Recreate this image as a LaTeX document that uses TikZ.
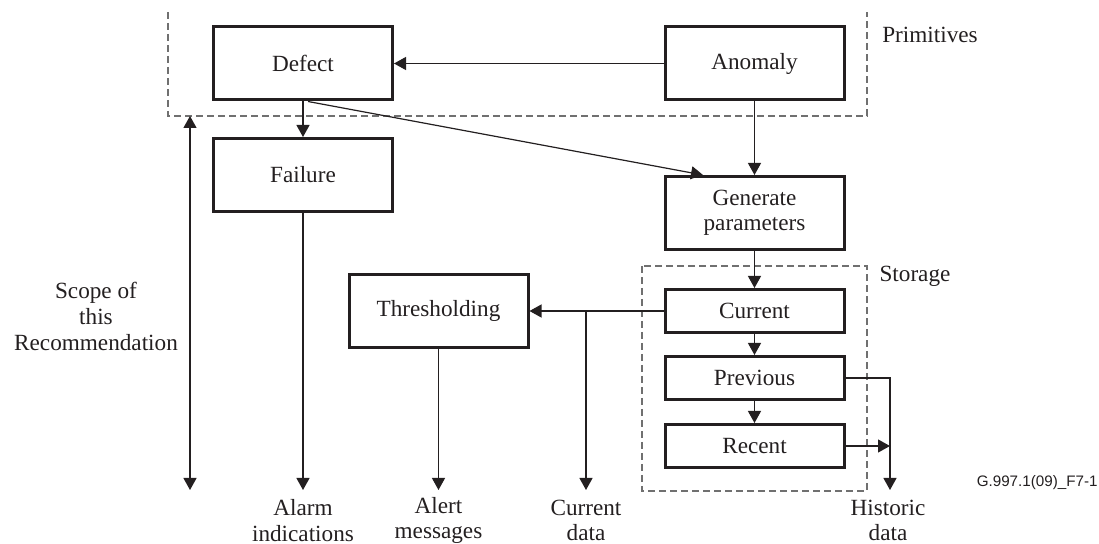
\documentclass[tikz,border=0pt]{standalone}
\usepackage{fontspec}
\setmainfont{Liberation Serif}
\newfontfamily\labelsans{Liberation Sans}
\usetikzlibrary{arrows.meta}
\definecolor{ink}{HTML}{231F20}
\definecolor{dashgray}{HTML}{707070}
\begin{document}
\begin{tikzpicture}[x=0.5pt,y=-0.5pt,
  txt/.style={font=\fontsize{11.6}{12.75}\selectfont, text=ink, align=center, inner sep=0pt},
  bigbox/.style={txt, draw=ink, line width=1.5pt, minimum width=89.5pt, minimum height=36.5pt},
  smallbox/.style={txt, draw=ink, line width=1.5pt, minimum width=89.5pt, minimum height=21.5pt},
  conn/.style={draw=ink, line width=0.6pt},
  arr/.style={conn, -{Triangle[length=6pt,width=6.5pt]}},
  darr/.style={conn, {Triangle[length=6pt,width=6.5pt]}-{Triangle[length=6pt,width=6.5pt]}},
  dashedframe/.style={draw=dashgray, line width=0.6pt, dash pattern=on 3.5pt off 2pt}
]
\useasboundingbox (0,0) rectangle (1099,544);

% dashed frames
\draw[dashedframe] (168,12) -- (168,116) -- (867,116) -- (867,12);
\draw[dashedframe] (642,266) rectangle (867,491);

% boxes
\node[bigbox] (defect) at (303,63.5) {Defect};
\node[bigbox] (anomaly) at (754.5,63.5) {Anomaly};
\node[bigbox] (fail) at (303,175) {Failure};
\node[bigbox] (gen) at (754.5,213) {Generate\\parameters};
\node[bigbox] (thr) at (438.5,311) {Thresholding};
\node[smallbox] (cur) at (754.5,311) {Current};
\node[smallbox] (prev) at (754.5,378) {Previous};
\node[smallbox] (rec) at (754.5,446) {Recent};

% labels
\node[txt] (prim) at (930,35) {Primitives};
\node[txt] (stor) at (915,276) {Storage};
\node[txt, font=\fontsize{11.6}{13}\selectfont] (scope) at (96,316) {Scope of\\this\\Recommendation};
\node[txt] (alarm) at (303,520.5) {Alarm\\indications};
\node[txt] (alert) at (438.5,520.5) {Alert\\messages};
\node[txt] (curdata) at (586,520.5) {Current\\data};
\node[txt] (hist) at (888,520.5) {Historic\\data};
\node[font=\labelsans\fontsize{7.6}{9}\selectfont, text=ink, anchor=east, inner sep=0pt] (fig) at (1098,483) {G.997.1(09)\_F7-1};

% coordinates for free ends
\coordinate (scopetop) at (190,116);
\coordinate (scopebot) at (190,490);
\coordinate (alarmend) at (303,490);
\coordinate (alertend) at (438.5,490);
\coordinate (branch) at (586,311);
\coordinate (curend) at (586,490);
\coordinate (histcorner) at (890,378);
\coordinate (histjoin) at (890,446);
\coordinate (histend) at (890,490);

% connectors
\draw[arr] (anomaly.west) -- (defect.east);
\draw[arr] (defect.south) -- (fail.north);
\draw[arr] ([xshift=2.5pt]defect.south) -- ([xshift=-25.75pt]gen.north);
\draw[arr] (anomaly.south) -- (gen.north);
\draw[arr] (gen.south) -- (cur.north);
\draw[arr] (cur.south) -- (prev.north);
\draw[arr] (prev.south) -- (rec.north);
\draw[arr] (cur.west) -- (thr.east);
\draw[arr] (branch) -- (curend);
\draw[arr] (thr.south) -- (alertend);
\draw[arr] (fail.south) -- (alarmend);
\draw[darr] (scopetop) -- (scopebot);
\draw[arr] (prev.east) -- (histcorner) -- (histend);
\draw[arr] (rec.east) -- (histjoin);
\end{tikzpicture}
\end{document}
